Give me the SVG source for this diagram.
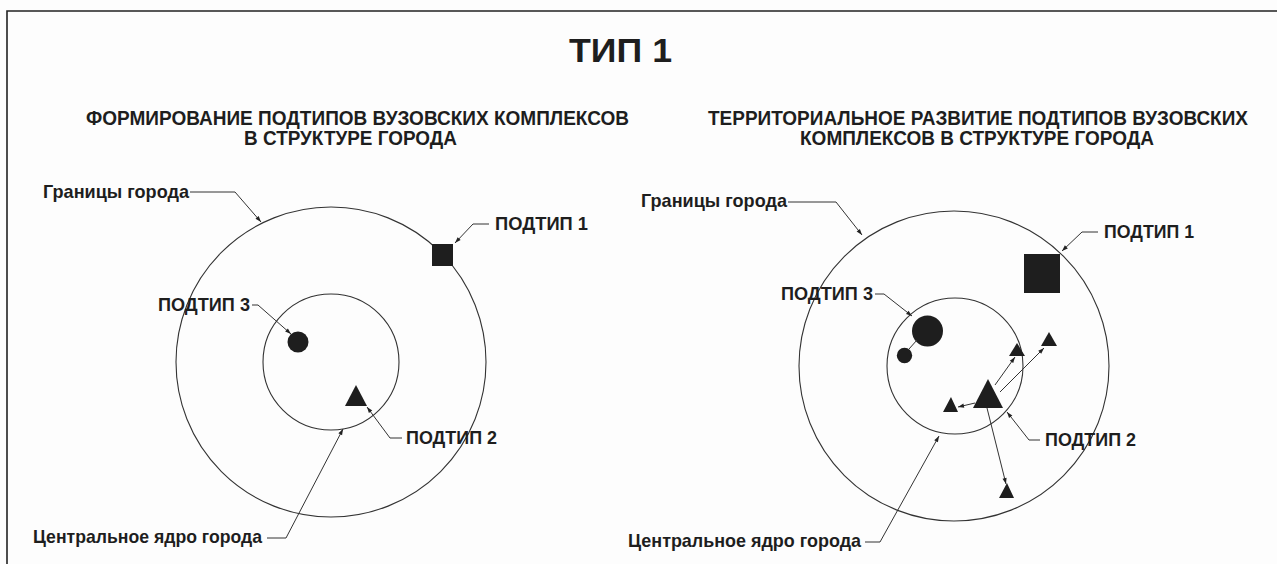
<svg xmlns="http://www.w3.org/2000/svg" width="1277" height="564" viewBox="0 0 1277 564">
<defs>
<style>
.t{font-family:"Liberation Sans Narrow","Liberation Sans",Arial,sans-serif;font-weight:bold;fill:#1e1e1e}
.title{font-size:34px}
.sub{font-size:20px}
.lbl{font-size:19px}
.ring{fill:none;stroke:#333;stroke-width:1.1}
.ld{fill:none;stroke:#333;stroke-width:1}
.sh{fill:#1e1e1e}
</style>
<marker id="ah" viewBox="0 0 10 10" refX="10" refY="5" markerWidth="7" markerHeight="6" markerUnits="userSpaceOnUse" orient="auto">
<path d="M0,1.5 L10,5 L0,8.5 Z" fill="#222"/>
</marker>
</defs>
<rect x="0" y="0" width="1277" height="564" fill="#fdfdfd"/>
<path d="M7,564 V11 H1277" fill="none" stroke="#222" stroke-width="1.6"/>

<g id="title">
<text class="t title" x="569" y="62" textLength="103" lengthAdjust="spacingAndGlyphs">ТИП 1</text>
</g>

<g id="left-heading">
<text class="t sub" x="86" y="125" textLength="543" lengthAdjust="spacingAndGlyphs">ФОРМИРОВАНИЕ ПОДТИПОВ ВУЗОВСКИХ КОМПЛЕКСОВ</text>
<text class="t sub" x="244" y="145" textLength="213" lengthAdjust="spacingAndGlyphs">В СТРУКТУРЕ ГОРОДА</text>
</g>
<g id="right-heading">
<text class="t sub" x="708" y="125" textLength="540" lengthAdjust="spacingAndGlyphs">ТЕРРИТОРИАЛЬНОЕ РАЗВИТИЕ ПОДТИПОВ ВУЗОВСКИХ</text>
<text class="t sub" x="800" y="145" textLength="354" lengthAdjust="spacingAndGlyphs">КОМПЛЕКСОВ В СТРУКТУРЕ ГОРОДА</text>
</g>

<!-- Left diagram -->
<g id="left-city-boundary">
<circle class="ring" cx="331" cy="362" r="155"/>
<text class="t lbl" x="43" y="198" textLength="146" lengthAdjust="spacingAndGlyphs">Границы города</text>
</g>
<g id="left-core">
<circle class="ring" cx="331" cy="362" r="68"/>
<text class="t lbl" x="33" y="543" textLength="229" lengthAdjust="spacingAndGlyphs">Центральное ядро города</text>
</g>
<g id="left-subtype1">
<rect class="sh" x="432" y="244" width="21" height="22"/>
<text class="t lbl" x="495" y="230" textLength="93" lengthAdjust="spacingAndGlyphs">ПОДТИП 1</text>
</g>
<g id="left-subtype3">
<circle class="sh" cx="298" cy="342" r="10.5"/>
<text class="t lbl" x="158" y="311" textLength="92" lengthAdjust="spacingAndGlyphs">ПОДТИП 3</text>
</g>
<g id="left-subtype2">
<path class="sh" d="M356,385 L367,406 L345,406 Z"/>
<text class="t lbl" x="406" y="444" textLength="91" lengthAdjust="spacingAndGlyphs">ПОДТИП 2</text>
</g>

<!-- Right diagram -->
<g id="right-city-boundary">
<circle class="ring" cx="954" cy="366" r="155"/>
<text class="t lbl" x="641" y="207" textLength="146" lengthAdjust="spacingAndGlyphs">Границы города</text>
</g>
<g id="right-core">
<circle class="ring" cx="955" cy="366" r="68"/>
<text class="t lbl" x="628" y="547" textLength="233" lengthAdjust="spacingAndGlyphs">Центральное ядро города</text>
</g>
<g id="right-subtype1">
<rect class="sh" x="1024" y="254" width="36" height="39"/>
<text class="t lbl" x="1104" y="238" textLength="90" lengthAdjust="spacingAndGlyphs">ПОДТИП 1</text>
</g>
<g id="right-subtype3">
<circle class="sh" cx="927.5" cy="331" r="15.5"/>
<circle class="sh" cx="904.5" cy="355.5" r="7.7"/>
<text class="t lbl" x="781" y="300" textLength="92" lengthAdjust="spacingAndGlyphs">ПОДТИП 3</text>
</g>
<g id="right-subtype2">
<path class="sh" d="M988,379 L1003,408 L973,408 Z"/>
<path class="sh" d="M1017,343 L1025,356 L1009,356 Z"/>
<path class="sh" d="M1049,332 L1057,346 L1041,346 Z"/>
<path class="sh" d="M951,397 L958,412 L943,412 Z"/>
<path class="sh" d="M1007,483 L1014,498 L999,498 Z"/>
<text class="t lbl" x="1045" y="446" textLength="91" lengthAdjust="spacingAndGlyphs">ПОДТИП 2</text>
</g>

<g id="connectors">
<!-- left leaders -->
<path class="ld" d="M190,192 H235 L261,222" marker-end="url(#ah)"/>
<path class="ld" d="M489,224 H473 L455,243" marker-end="url(#ah)"/>
<path class="ld" d="M252,305 H258 L291,334" marker-end="url(#ah)"/>
<path class="ld" d="M402,438 H390 L367,407" marker-end="url(#ah)"/>
<path class="ld" d="M267,538 H286 L343,429" marker-end="url(#ah)"/>
<!-- right leaders -->
<path class="ld" d="M788,202 H836 L862,235" marker-end="url(#ah)"/>
<path class="ld" d="M1098,232 H1082 L1062,251" marker-end="url(#ah)"/>
<path class="ld" d="M875,294 H884 L912,316" marker-end="url(#ah)"/>
<path class="ld" d="M1040,440 H1029 L1007,412" marker-end="url(#ah)"/>
<path class="ld" d="M865,542 H880 L939,436" marker-end="url(#ah)"/>
<!-- development links -->
<path class="ld" d="M909,349 L917,340"/>
<path class="ld" d="M995,385 L1015,357" marker-end="url(#ah)"/>
<path class="ld" d="M1000,392 L1044,348" marker-end="url(#ah)"/>
<path class="ld" d="M975,403 L958,407" marker-end="url(#ah)"/>
<path class="ld" d="M987,408 L1006,484" marker-end="url(#ah)"/>
</g>
</svg>
